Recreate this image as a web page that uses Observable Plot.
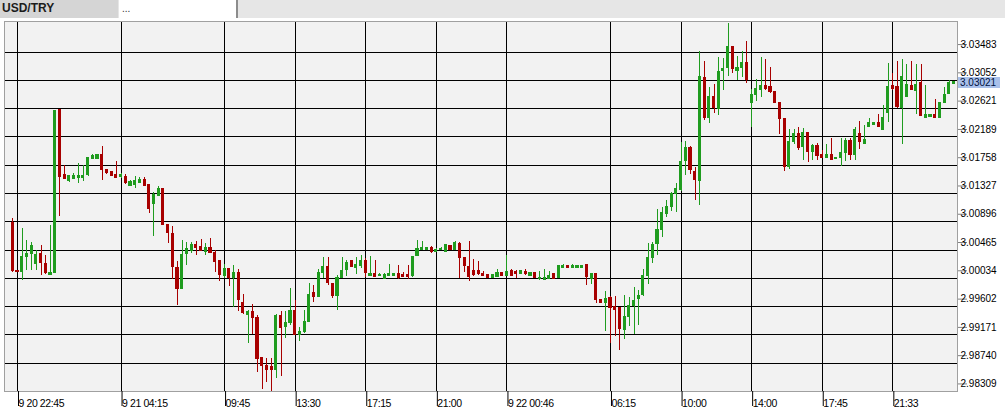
<!DOCTYPE html>
<html>
<head>
<meta charset="utf-8">
<script src="https://cdn.jsdelivr.net/npm/d3@7"></script>
<script src="https://cdn.jsdelivr.net/npm/@observablehq/plot@0.6"></script>
<style>
  html, body { margin: 0; padding: 0; background: #fff; }
  #hdr { position: relative; width: 1005px; height: 18px; background: #e6e6e6; }
  #tab1 { position: absolute; left: 0; top: 0; width: 116px; height: 18px; background: #d5d5d5; padding-left: 2px;
          font: bold 12px "Liberation Sans", Arial, sans-serif; line-height: 17px; color: #1c1c1c; }
  #tab2 { position: absolute; left: 119px; top: 0; width: 117px; height: 18px; background: #fff;
          font: 10px "Liberation Sans", Arial, sans-serif; line-height: 18px; color: #333; padding-left: 3px; box-sizing: border-box; }
  #sep { position: absolute; left: 236px; top: 0; width: 2px; height: 18px; background: #8c8c8c; }
  #gap { height: 2px; background: #fff; }
  #chart svg { display: block; }
  #chart svg g[aria-label="x-axis tick label"] text { letter-spacing: -0.4px; }
</style>
</head>
<body>
<div id="hdr"><div id="tab1">USD/TRY</div><div id="tab2">...</div><div id="sep"></div></div>
<div id="gap"></div>
<div id="chart"></div>
<script>
// 15-minute candles, USD/TRY, index 0 = first bar on the left
const open = [
3.00882,3.00147,3.00137,3.00365,3.00411,3.00258,3.00405,3.00258,3.00091,3.00122,
3.02596,3.01607,3.01516,3.01551,3.01561,3.01566,3.01602,3.01850,3.01850,3.01911,
3.01683,3.01653,3.01612,3.01572,3.01577,3.01445,3.01460,3.01490,3.01531,3.01455,
3.01171,3.01288,3.01389,3.00841,3.00710,3.00193,2.99878,3.00411,3.00451,3.00542,
3.00517,3.00436,3.00492,3.00421,3.00294,3.00071,3.00172,3.00045,3.00117,2.99660,
2.99476,2.99527,2.99421,2.98817,2.98691,2.98686,2.98635,2.99466,2.99289,2.99350,
2.99542,2.99162,2.99213,2.99375,2.99806,2.99745,3.00110,3.00212,2.99953,2.99760,
3.00039,3.00156,3.00293,3.00186,3.00227,3.00303,3.00075,3.00105,3.00065,3.00029,
3.00070,3.00075,3.00100,3.00090,3.00085,3.00075,3.00369,3.00465,3.00465,3.00501,
3.00440,3.00465,3.00430,3.00521,3.00470,3.00556,3.00338,3.00212,3.00151,3.00146,
3.00095,3.00078,3.00042,3.00057,3.00108,3.00068,3.00144,3.00129,3.00103,3.00134,
3.00073,3.00108,3.00017,3.00012,3.00027,3.00093,3.00032,3.00195,3.00220,3.00195,
3.00195,3.00185,3.00236,3.00017,3.00093,2.99701,2.99660,2.99726,2.99594,2.99574,
2.99253,2.99447,2.99609,2.99721,2.99778,3.00063,3.00342,3.00551,3.00770,3.01009,
3.01126,3.01315,3.01376,3.01824,3.02027,3.01656,3.01523,3.03086,3.02475,3.02801,
3.02613,3.03188,3.03239,3.03564,3.03188,3.03244,3.03320,3.02699,3.02832,3.02908,
3.02969,3.02954,3.02867,3.02699,3.02465,3.01737,3.02114,3.02231,3.02038,3.02251,
3.01966,3.02053,3.01915,3.01875,3.01915,3.01854,3.01869,3.01946,3.02129,3.01920,
3.02241,3.02088,3.02348,3.02378,3.02404,3.02292,3.02557,3.02964,3.02943,3.02628,
3.02801,3.02969,3.02893,3.03005,3.02475,3.02496,3.02521,3.02475,3.02714,3.02837,
3.02994];
const high = [
3.00948,3.00152,3.00791,3.00603,3.00578,3.00461,3.00527,3.00385,3.00841,3.02585,
3.02601,3.01754,3.01607,3.01632,3.01790,3.01754,3.01871,3.01921,3.01916,3.02038,
3.01688,3.01658,3.01820,3.01632,3.01617,3.01526,3.01592,3.01577,3.01577,3.01465,
3.01338,3.01430,3.01404,3.00857,3.00831,3.00284,3.00613,3.00578,3.00578,3.00593,
3.00618,3.00557,3.00644,3.00451,3.00304,3.00248,3.00182,3.00223,3.00172,2.99792,
2.99537,2.99634,2.99466,2.98832,2.98807,2.98807,2.99481,2.99532,2.99532,2.99882,
2.99694,2.99289,2.99542,2.99958,2.99923,3.00166,3.00348,3.00348,2.99958,3.00075,
3.00348,3.00303,3.00298,3.00354,3.00379,3.00343,3.00364,3.00303,3.00105,3.00100,
3.00242,3.00105,3.00227,3.00115,3.00227,3.00364,3.00617,3.00592,3.00511,3.00521,
3.00490,3.00506,3.00546,3.00531,3.00592,3.00582,3.00343,3.00597,3.00328,3.00288,
3.00136,3.00083,3.00093,3.00164,3.00113,3.00388,3.00164,3.00159,3.00149,3.00164,
3.00129,3.00113,3.00144,3.00164,3.00144,3.00108,3.00220,3.00246,3.00220,3.00241,
3.00230,3.00220,3.00241,3.00108,3.00098,2.99716,2.99828,2.99762,2.99757,2.99584,
2.99778,2.99737,2.99890,2.99849,3.00164,3.00561,3.00582,3.01081,3.01111,3.01223,
3.01340,3.01478,3.02104,3.02119,3.02038,3.01722,3.03488,3.03340,3.02943,3.02984,
3.03402,3.03386,3.03921,3.03564,3.03412,3.03488,3.03641,3.02918,3.03071,3.03402,
3.03366,3.03249,3.02877,3.02699,3.02470,3.02297,3.02297,3.02333,3.02323,3.02261,
3.02078,3.02088,3.01976,3.02078,3.02170,3.01875,3.02170,3.02170,3.02170,3.02333,
3.02419,3.02368,3.02465,3.02404,3.02526,3.02664,3.03310,3.03150,3.03335,3.03366,
3.03300,3.03335,3.03300,3.03300,3.02969,3.02521,3.02755,3.02709,3.02943,3.03055,
3.03030];
const low = [
3.00122,3.00116,3.00005,3.00147,3.00157,3.00147,3.00081,3.00096,3.00071,3.00112,
3.00973,3.01541,3.01501,3.01541,3.01475,3.01511,3.01592,3.01845,3.01845,3.01531,
3.01622,3.01592,3.01556,3.01561,3.01470,3.01440,3.01399,3.01480,3.01430,3.01024,
3.00664,3.01278,3.00841,3.00563,3.00020,2.99615,2.99868,3.00233,3.00416,3.00385,
3.00436,3.00385,3.00411,3.00122,2.99985,3.00030,2.99904,2.99589,2.99528,2.99483,
2.99035,2.99172,2.98604,2.98331,2.98452,2.98310,2.98503,2.98538,2.99111,2.99314,
2.99162,2.99076,2.99187,2.99365,2.99669,2.99740,3.00024,2.99923,2.99720,2.99542,
3.00024,3.00059,3.00196,3.00095,3.00186,3.00039,3.00065,3.00049,3.00054,3.00024,
3.00059,3.00070,3.00009,3.00049,3.00009,3.00049,3.00359,3.00460,3.00460,3.00414,
3.00430,3.00460,3.00425,3.00460,3.00455,3.00024,3.00115,2.99983,3.00059,3.00070,
3.00059,3.00037,3.00037,3.00052,3.00063,3.00063,3.00063,3.00037,3.00098,3.00083,
3.00063,3.00032,3.00007,3.00007,3.00022,3.00022,3.00027,3.00190,3.00190,3.00190,
3.00190,3.00180,2.99930,2.99940,2.99645,2.99650,2.99223,2.99034,2.99146,2.98933,
2.99095,2.99299,2.99177,2.99319,2.99757,2.99945,3.00256,3.00388,3.00663,3.00958,
3.01050,3.01035,3.01355,3.01605,3.01610,3.01213,3.01137,3.02434,3.02394,3.02547,
3.02516,3.02903,3.03106,3.03157,3.03055,3.03096,3.03010,3.02333,3.02730,3.02791,
3.02903,3.02852,3.02699,3.02231,3.01661,3.01691,3.02078,3.01987,3.01824,3.01798,
3.01824,3.01824,3.01859,3.01854,3.01834,3.01849,3.01742,3.01813,3.01834,3.01834,
3.02002,3.02078,3.02343,3.02378,3.02343,3.02282,3.02409,3.02903,3.02628,3.02073,
3.02791,3.02903,3.02536,3.02496,3.02470,3.02490,3.02470,3.02470,3.02709,3.02832,
3.02984];
const close = [
3.00147,3.00127,3.00360,3.00405,3.00532,3.00390,3.00263,3.00122,3.00116,3.02580,
3.01582,3.01551,3.01592,3.01587,3.01587,3.01592,3.01866,3.01891,3.01911,3.01688,
3.01632,3.01597,3.01566,3.01602,3.01480,3.01496,3.01511,3.01531,3.01440,3.01095,
3.01303,3.01389,3.00852,3.00720,3.00213,2.99878,3.00385,3.00476,3.00542,3.00497,
3.00451,3.00497,3.00421,3.00289,3.00081,3.00172,3.00035,3.00112,2.99696,2.99498,
2.99527,2.99426,2.98802,2.98696,2.98635,2.98635,2.99466,2.99274,2.99350,2.99542,
2.99172,2.99213,2.99375,2.99786,2.99745,3.00120,3.00212,2.99958,2.99760,3.00039,
3.00146,3.00272,3.00212,3.00242,3.00303,3.00110,3.00105,3.00059,3.00085,3.00090,
3.00100,3.00100,3.00044,3.00059,3.00059,3.00359,3.00485,3.00496,3.00490,3.00440,
3.00470,3.00485,3.00541,3.00470,3.00566,3.00343,3.00217,3.00059,3.00090,3.00100,
3.00070,3.00042,3.00083,3.00108,3.00068,3.00129,3.00068,3.00103,3.00144,3.00093,
3.00118,3.00037,3.00037,3.00037,3.00063,3.00027,3.00215,3.00220,3.00195,3.00220,
3.00220,3.00215,3.00052,3.00093,2.99696,2.99660,2.99721,2.99584,2.99543,2.99263,
2.99447,2.99604,2.99686,2.99767,3.00063,3.00337,3.00541,3.00770,3.01030,3.01121,
3.01315,3.01391,3.01808,3.02027,3.01681,3.01528,3.03106,3.02485,3.02801,3.02623,
3.03183,3.03223,3.03564,3.03223,3.03244,3.03320,3.03055,3.02832,3.02918,3.02969,
3.02918,3.02867,3.02714,3.02470,3.01737,3.02114,3.02231,3.02027,3.02246,3.01961,
3.02053,3.01900,3.01875,3.01915,3.01844,3.01869,3.01946,3.02129,3.01920,3.02297,
3.02119,3.02149,3.02404,3.02404,3.02348,3.02480,3.02954,3.02918,3.02638,3.03106,
3.02974,3.02908,3.02984,3.02501,3.02521,3.02521,3.02475,3.02704,3.02832,3.03015,
3.03021];

// price grid levels shown on the right axis
const priceTicks = [3.03483,3.03052,3.02621,3.02189,3.01758,3.01327,3.00896,3.00465,3.00034,2.99602,2.99171,2.98740,2.98309];
// time labels and the bar index they sit on
const timeTickBars = [1,23,45,60,75,90,105,127,142,157,172,187];
const timeTickLabels = ["9 20 22:45","9 21 04:15","09:45","13:30","17:15","21:00","9 22 00:46","06:15","10:00","14:00","17:45","21:33"];
const lastPrice = 3.03021;
const xDomain = [-1.764, 200.74];

const UP = "#1f9c1f", DOWN = "#a80000";
const candles = open.map((o, i) => ({i, o, h: high[i], l: low[i], c: close[i], col: close[i] >= o ? UP : DOWN}));

const lastLabel = (index, scales) => {
  const y = scales.y(lastPrice);
  const x0 = Math.round(scales.x(xDomain[1])) + 1;
  const g = d3.create("svg:g");
  g.append("rect").attr("x", x0).attr("y", Math.round(y) - 5).attr("width", 42).attr("height", 11).attr("fill", "#a9c0ea");
  g.append("text").attr("x", x0 + 2).attr("y", Math.round(y) + 0.5).attr("dy", "0.35em").attr("text-anchor", "start")
    .attr("font-family", "'Liberation Sans', Arial, sans-serif").attr("font-size", 10).attr("fill", "#001040")
    .text(lastPrice.toFixed(5));
  return g.node();
};

const chart = Plot.plot({
  width: 1005,
  height: 396,
  marginLeft: 4,
  marginRight: 48,
  marginTop: 1,
  marginBottom: 25,
  x: {domain: xDomain, axis: null, label: null},
  y: {domain: [2.98308, 3.03949], axis: null, label: null},
  color: {type: "identity"},
  style: {background: "#fff", overflow: "visible"},
  marks: [
    Plot.frame({fill: "#f2f2f2", stroke: null}),
    Plot.ruleY(priceTicks, {stroke: "#000", shapeRendering: "crispEdges"}),
    Plot.ruleX(timeTickBars, {stroke: "#000", shapeRendering: "crispEdges"}),
    Plot.frame({stroke: "#a0a0a0", shapeRendering: "crispEdges"}),
    Plot.ruleX(candles, {x: "i", y1: "l", y2: "h", stroke: "col", shapeRendering: "crispEdges"}),
    Plot.rect(candles, {
      x1: d => d.i - 0.33, x2: d => d.i + 0.33,
      y1: d => Math.min(d.o, d.c), y2: d => Math.max(d.o, d.c),
      fill: "col", insetTop: -0.5, insetBottom: -0.5, shapeRendering: "crispEdges"
    }),
    Plot.axisY(priceTicks, {
      anchor: "right", label: null, tickSize: 9, tickPadding: -6, dy: -7.5,
      tickFormat: d => d.toFixed(5), textAnchor: "start",
      stroke: "#808080", fill: "#000",
      fontSize: 10, fontFamily: "'Liberation Sans', Arial, sans-serif"
    }),
    Plot.axisX(timeTickBars, {
      anchor: "bottom", label: null, tickSize: 15, tickPadding: -7, dx: 1,
      tickFormat: d => timeTickLabels[timeTickBars.indexOf(d)], textAnchor: "start",
      stroke: "#000", fill: "#000",
      fontSize: 10.5, fontFamily: "'Liberation Sans', Arial, sans-serif"
    }),
    lastLabel
  ]
});
document.getElementById("chart").appendChild(chart);
</script>
</body>
</html>
